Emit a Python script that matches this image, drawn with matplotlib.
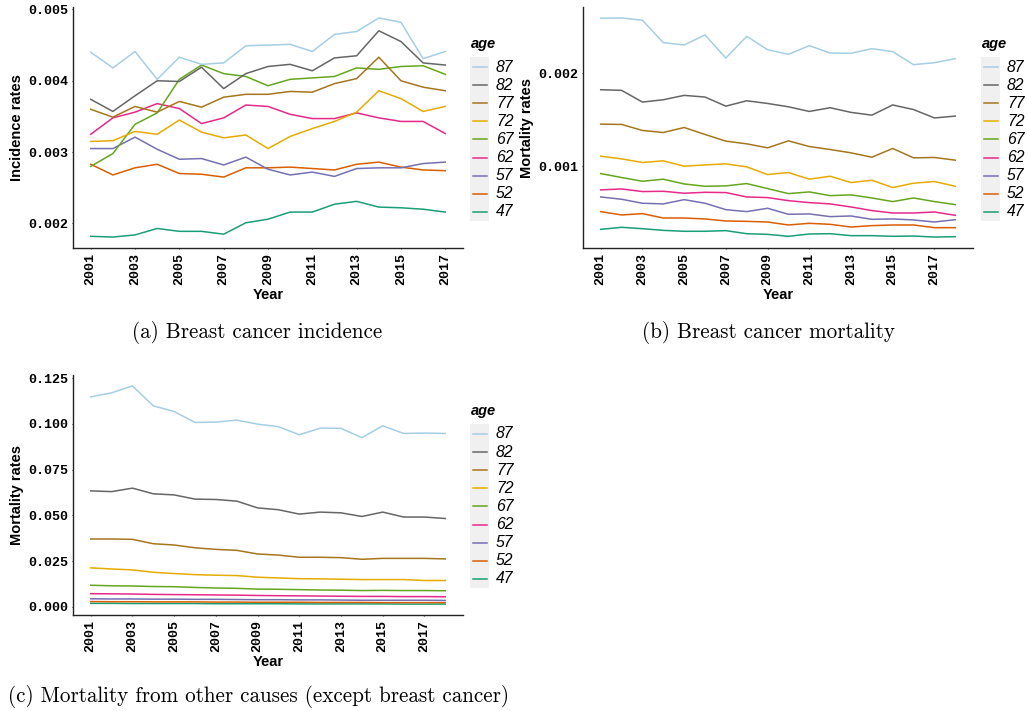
import numpy as np
import matplotlib
matplotlib.use("Agg")
import matplotlib.pyplot as plt
from matplotlib.lines import Line2D
from matplotlib.patches import Rectangle
from matplotlib.ticker import FormatStrFormatter

W, H = 1028, 711

ages = [87, 82, 77, 72, 67, 62, 57, 52, 47]
colors = ["#a6cee3", "#666666", "#a6761d", "#e6ab02", "#66a61e",
          "#e7298a", "#7570b3", "#d95f02", "#1b9e77"]

years_inc = list(range(2001, 2018))
years_mort = list(range(2001, 2019))

# breast cancer incidence, 2001-2017
inc_87 = [0.00440, 0.00418, 0.00441, 0.00402, 0.00433, 0.00423, 0.00425, 0.00449, 0.00450,
          0.00451, 0.00441, 0.00465, 0.00469, 0.00488, 0.00482, 0.00431, 0.00441]
inc_82 = [0.00374, 0.00357, 0.00379, 0.00400, 0.00399, 0.00419, 0.00389, 0.00410, 0.00420,
          0.00423, 0.00414, 0.00432, 0.00435, 0.00470, 0.00455, 0.00425, 0.00422]
inc_77 = [0.00360, 0.00349, 0.00364, 0.00356, 0.00371, 0.00363, 0.00377, 0.00381, 0.00381,
          0.00385, 0.00384, 0.00396, 0.00403, 0.00433, 0.00400, 0.00391, 0.00386]
inc_72 = [0.00315, 0.00316, 0.00329, 0.00325, 0.00345, 0.00328, 0.00320, 0.00324, 0.00305,
          0.00322, 0.00333, 0.00343, 0.00356, 0.00386, 0.00375, 0.00357, 0.00364]
inc_67 = [0.00280, 0.00298, 0.00339, 0.00355, 0.00402, 0.00422, 0.00410, 0.00406, 0.00393,
          0.00402, 0.00404, 0.00406, 0.00418, 0.00416, 0.00420, 0.00421, 0.00409]
inc_62 = [0.00325, 0.00348, 0.00356, 0.00368, 0.00361, 0.00340, 0.00348, 0.00366, 0.00364,
          0.00353, 0.00347, 0.00347, 0.00355, 0.00348, 0.00343, 0.00343, 0.00326]
inc_57 = [0.00305, 0.00305, 0.00321, 0.00304, 0.00290, 0.00291, 0.00282, 0.00293, 0.00276,
          0.00268, 0.00272, 0.00266, 0.00277, 0.00278, 0.00278, 0.00284, 0.00286]
inc_52 = [0.00283, 0.00268, 0.00278, 0.00283, 0.00270, 0.00269, 0.00265, 0.00278, 0.00278,
          0.00279, 0.00277, 0.00275, 0.00283, 0.00286, 0.00279, 0.00275, 0.00274]
inc_47 = [0.00182, 0.00181, 0.00184, 0.00193, 0.00189, 0.00189, 0.00185, 0.00201, 0.00206,
          0.00216, 0.00216, 0.00227, 0.00231, 0.00223, 0.00222, 0.00220, 0.00216]

# breast cancer mortality, 2001-2018
bc_87 = [0.002594, 0.002597, 0.002572, 0.002331, 0.002306, 0.002414, 0.002165, 0.002399, 0.002255,
         0.002205, 0.002299, 0.002219, 0.002216, 0.002266, 0.002234, 0.002094, 0.002115, 0.002158]
bc_82 = [0.001824, 0.001817, 0.001691, 0.001716, 0.001763, 0.001745, 0.001647, 0.001705, 0.001676,
         0.001640, 0.001590, 0.001630, 0.001580, 0.001550, 0.001660, 0.001610, 0.001520, 0.001540]
bc_77 = [0.001453, 0.001450, 0.001385, 0.001363, 0.001417, 0.001342, 0.001270, 0.001241, 0.001198,
         0.001273, 0.001212, 0.001180, 0.001144, 0.001097, 0.001191, 0.001090, 0.001094, 0.001065]
bc_72 = [0.001108, 0.001079, 0.001040, 0.001058, 0.001000, 0.001014, 0.001025, 0.000993, 0.000910,
         0.000932, 0.000860, 0.000892, 0.000824, 0.000849, 0.000770, 0.000817, 0.000835, 0.000784]
bc_67 = [0.000921, 0.000878, 0.000838, 0.000860, 0.000809, 0.000784, 0.000788, 0.000813, 0.000759,
         0.000705, 0.000723, 0.000683, 0.000691, 0.000658, 0.000619, 0.000658, 0.000619, 0.000586]
bc_62 = [0.000745, 0.000755, 0.000727, 0.000730, 0.000709, 0.000719, 0.000716, 0.000669, 0.000662,
         0.000629, 0.000608, 0.000594, 0.000561, 0.000522, 0.000496, 0.000496, 0.000507, 0.000471]
bc_57 = [0.000669, 0.000644, 0.000601, 0.000594, 0.000640, 0.000601, 0.000532, 0.000511, 0.000547,
         0.000482, 0.000486, 0.000457, 0.000464, 0.000428, 0.000432, 0.000421, 0.000399, 0.000424]
bc_52 = [0.000511, 0.000475, 0.000489, 0.000442, 0.000442, 0.000432, 0.000410, 0.000406, 0.000399,
         0.000367, 0.000385, 0.000374, 0.000345, 0.000360, 0.000367, 0.000367, 0.000338, 0.000338]
bc_47 = [0.000320, 0.000342, 0.000327, 0.000309, 0.000299, 0.000299, 0.000306, 0.000273, 0.000266,
         0.000245, 0.000270, 0.000273, 0.000252, 0.000252, 0.000245, 0.000248, 0.000237, 0.000241]

# mortality from other causes, 2001-2018
oth_87 = [0.1148, 0.1170, 0.1208, 0.1099, 0.1068, 0.1008, 0.1010, 0.1021, 0.0999,
          0.0985, 0.0941, 0.0977, 0.0976, 0.0925, 0.0990, 0.0948, 0.0950, 0.0948]
oth_82 = [0.0634, 0.0630, 0.0649, 0.0618, 0.0612, 0.0589, 0.0587, 0.0578, 0.0541,
          0.0531, 0.0507, 0.0518, 0.0514, 0.0494, 0.0518, 0.0491, 0.0491, 0.0483]
oth_77 = [0.0371, 0.0371, 0.0369, 0.0345, 0.0338, 0.0323, 0.0314, 0.0309, 0.0289,
          0.0283, 0.0271, 0.0271, 0.0269, 0.0260, 0.0265, 0.0265, 0.0265, 0.0262]
oth_72 = [0.0213, 0.0207, 0.0202, 0.0189, 0.0182, 0.0176, 0.0173, 0.0171, 0.0162,
          0.0158, 0.0154, 0.0153, 0.0151, 0.0149, 0.0149, 0.0149, 0.0144, 0.0144]
oth_67 = [0.0118, 0.0115, 0.0114, 0.0111, 0.0110, 0.0106, 0.0103, 0.0101, 0.0097,
          0.0096, 0.0094, 0.0092, 0.0091, 0.0089, 0.0090, 0.0089, 0.0089, 0.0088]
oth_62 = [0.0072, 0.0071, 0.0070, 0.0068, 0.0067, 0.0066, 0.0065, 0.0064, 0.0062,
          0.0061, 0.0060, 0.0059, 0.0058, 0.0057, 0.0057, 0.0056, 0.0056, 0.0055]
oth_57 = [0.0044, 0.0043, 0.0043, 0.0042, 0.0042, 0.0041, 0.0041, 0.0040, 0.0039,
          0.0039, 0.0038, 0.0038, 0.0037, 0.0036, 0.0036, 0.0036, 0.0036, 0.0035]
oth_52 = [0.0029, 0.0028, 0.0028, 0.0027, 0.0027, 0.0027, 0.0026, 0.0026, 0.0025,
          0.0025, 0.0025, 0.0024, 0.0024, 0.0024, 0.0023, 0.0023, 0.0023, 0.0023]
oth_47 = [0.0019, 0.0019, 0.0018, 0.0018, 0.0018, 0.0018, 0.0017, 0.0017, 0.0017,
          0.0017, 0.0016, 0.0016, 0.0016, 0.0016, 0.0016, 0.0015, 0.0015, 0.0015]

incidence = [inc_87, inc_82, inc_77, inc_72, inc_67, inc_62, inc_57, inc_52, inc_47]
bc_mort = [bc_87, bc_82, bc_77, bc_72, bc_67, bc_62, bc_57, bc_52, bc_47]
other_mort = [oth_87, oth_82, oth_77, oth_72, oth_67, oth_62, oth_57, oth_52, oth_47]

tick_font = dict(family="Liberation Mono", weight="bold", size=9.6)
label_font = dict(family="Liberation Sans", weight="bold", size=10.5)


def box(x0, y0, x1, y1):
    # pixel box (top-left origin) -> figure fraction rect
    return [x0 / W, 1 - y1 / H, (x1 - x0) / W, (y1 - y0) / H]


def panel(fig, rect, years, series, ylabel, yticks):
    ax = fig.add_axes(rect)
    for vals, c in zip(series[::-1], colors[::-1]):
        ax.plot(years, vals, color=c, lw=1.1)
    ax.margins(x=0.05, y=0.05)
    ax.set_xticks(list(range(2001, 2018, 2)))
    ax.set_yticks(yticks)
    ax.yaxis.set_major_formatter(FormatStrFormatter("%.3f"))
    for s in ["top", "right"]:
        ax.spines[s].set_visible(False)
    for s in ["left", "bottom"]:
        ax.spines[s].set_linewidth(1.0)
        ax.spines[s].set_color("#222222")
    ax.tick_params(length=1, width=0.8, color="#333333", pad=2.5)
    for t in ax.get_xticklabels():
        t.set_rotation(90)
        t.set(**tick_font)
    for t in ax.get_yticklabels():
        t.set(**tick_font)
    ax.set_xlabel("Year", labelpad=2, **label_font)
    ax.set_ylabel(ylabel, labelpad=3, **label_font)
    return ax


def key(fig, x0, y0):
    # ggplot-style legend: grey key column, italic labels
    fig.text((x0 + 1) / W, 1 - (y0 - 13) / H, "age", fontsize=10.5, family="Liberation Sans",
             weight="bold", style="italic", va="center", ha="left")
    n = len(ages)
    step = 18.1
    fig.patches.append(Rectangle((x0 / W, 1 - (y0 + n * step + 1) / H), 19 / W,
                                 (n * step + 1) / H, transform=fig.transFigure,
                                 facecolor="#f0f0f0", edgecolor="none"))
    for i, (a, c) in enumerate(zip(ages, colors)):
        yc = y0 + 10 + i * step
        fig.lines.append(Line2D([(x0 + 3) / W, (x0 + 17) / W], [1 - yc / H, 1 - yc / H],
                                transform=fig.transFigure, color=c, lw=1.1))
        fig.text((x0 + 26) / W, 1 - yc / H, str(a), fontsize=11.3, family="Liberation Sans",
                 style="italic", va="center", ha="left")


fig = plt.figure(figsize=(W / 100, H / 100), dpi=100)

panel(fig, box(73, 7, 463, 248), years_inc, incidence, "Incidence rates",
      [0.002, 0.003, 0.004, 0.005])
panel(fig, box(583, 7, 973, 248), years_mort, bc_mort, "Mortality rates",
      [0.001, 0.002])
panel(fig, box(73, 375, 463, 615), years_mort, other_mort, "Mortality rates",
      np.arange(0, 0.126, 0.025))

for x0, y0 in [(470, 57), (981, 57), (470, 424)]:
    key(fig, x0, y0)

cap = dict(family="cmr10", size=15.2, va="center")
fig.text(257 / W, 1 - 332 / H, "(a) Breast cancer incidence", ha="center", **cap)
fig.text(768 / W, 1 - 332 / H, "(b) Breast cancer mortality", ha="center", **cap)
fig.text(8 / W, 1 - 697 / H, "(c) Mortality from other causes (except breast cancer)",
         ha="left", **cap)

fig.savefig("out.png", dpi=100)
